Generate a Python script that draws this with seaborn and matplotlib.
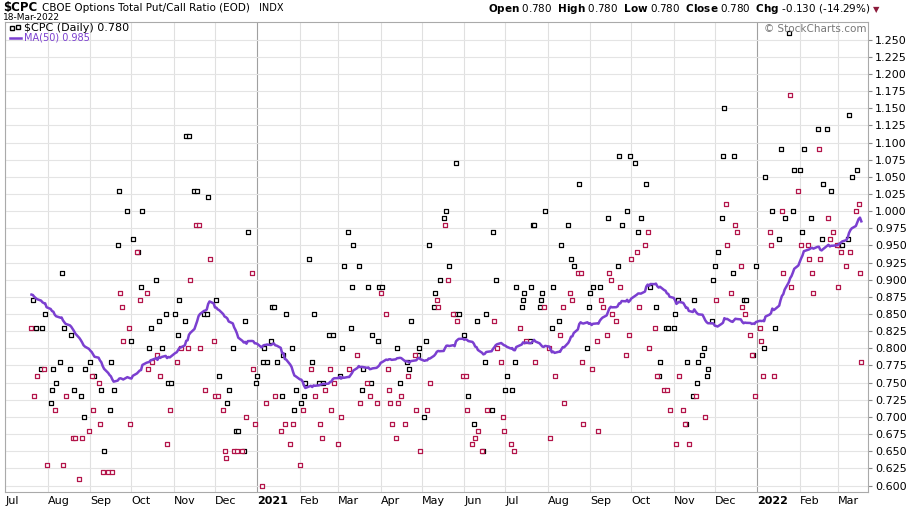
import numpy as np
import pandas as pd
import matplotlib
matplotlib.use("Agg")
import matplotlib.pyplot as plt
import seaborn as sns

# estimated closes for the 49 sessions before the window (only feed the MA(50))
prior_values = [0.90, 0.86, 0.92, 0.84, 0.88, 0.95, 0.83, 0.87, 0.91, 0.85,
                0.89, 0.82, 0.93, 0.86, 0.88, 0.90, 0.84, 0.97, 0.85, 0.87,
                0.92, 0.83, 0.89, 0.86, 0.94, 0.88, 0.84, 0.90, 0.87, 0.85,
                0.91, 0.86, 0.88, 0.93, 0.82, 0.89, 0.87, 0.90, 0.85, 0.92,
                0.86, 0.88, 0.84, 0.91, 0.87, 0.89, 0.85, 0.90, 0.86]

# $CPC daily closes, Jul 2020 .. 18-Mar-2022
cpc_2020h2 = [0.83, 0.87, 0.73, 0.83, 0.76, 0.77, 0.83, 0.77, 0.85, 0.63,
              0.72, 0.74, 0.77, 0.71, 0.75, 0.78, 0.91, 0.63, 0.83, 0.73,
              0.77, 0.82, 0.67, 0.74, 0.67, 0.61, 0.73, 0.67, 0.70, 0.77,
              0.68, 0.78, 0.76, 0.71, 0.76, 0.75, 0.69, 0.74, 0.62, 0.65,
              0.62, 0.71, 0.78, 0.62, 0.74, 0.95, 1.03, 0.88, 0.86, 0.81,
              1.00, 0.83, 0.69, 0.81, 0.96, 0.94, 0.94, 0.87, 0.89, 1.00,
              0.88, 0.77, 0.80, 0.83, 0.78, 0.90, 0.79, 0.84, 0.76, 0.80,
              0.85, 0.66, 0.75, 0.71, 0.75, 0.85, 0.78, 0.82, 0.87, 0.80,
              0.84, 1.11, 0.80, 1.11, 0.90, 1.03, 0.98, 1.03, 0.98, 0.80,
              0.85, 0.74, 0.85, 1.02, 0.93, 0.81, 0.73, 0.87, 0.73, 0.76,
              0.71, 0.65, 0.64, 0.72, 0.74, 0.80, 0.65, 0.68, 0.65, 0.68,
              0.65, 0.65]
cpc_2021h1 = [0.84, 0.70, 0.97, 0.91, 0.77, 0.69, 0.75, 0.76, 0.60, 0.78,
              0.80, 0.72, 0.78, 0.81, 0.86, 0.86, 0.73, 0.78, 0.68, 0.73,
              0.79, 0.69, 0.85, 0.66, 0.80, 0.69, 0.71, 0.74, 0.63, 0.72,
              0.71, 0.73, 0.75, 0.93, 0.77, 0.78, 0.85, 0.73, 0.75, 0.69,
              0.67, 0.75, 0.74, 0.82, 0.77, 0.71, 0.82, 0.75, 0.66, 0.76,
              0.70, 0.80, 0.92, 0.97, 0.77, 0.83, 0.89, 0.95, 0.79, 0.92,
              0.72, 0.74, 0.77, 0.75, 0.89, 0.73, 0.75, 0.82, 0.72, 0.81,
              0.89, 0.88, 0.89, 0.85, 0.77, 0.74, 0.72, 0.69, 0.67, 0.80,
              0.72, 0.75, 0.73, 0.69, 0.78, 0.76, 0.77, 0.84, 0.79, 0.71,
              0.79, 0.80, 0.65, 0.70, 0.81, 0.71, 0.95, 0.75, 0.86, 0.88,
              0.87, 0.86, 0.90, 0.99, 0.98, 1.00, 0.90, 0.92, 0.85, 0.85,
              1.07, 0.84, 0.85, 0.76, 0.82, 0.76, 0.71, 0.73, 0.66, 0.69,
              0.67, 0.84, 0.68, 0.65, 0.65, 0.78, 0.85, 0.71, 0.71, 0.97]
cpc_2021h2 = [0.84, 0.90, 0.80, 0.78, 0.70, 0.68, 0.74, 0.76, 0.66, 0.74,
              0.65, 0.78, 0.89, 0.83, 0.86, 0.87, 0.88, 0.81, 0.81, 0.89,
              0.98, 0.98, 0.78, 0.86, 0.87, 0.88, 0.86, 1.00, 0.80, 0.67,
              0.83, 0.89, 0.76, 0.84, 0.82, 0.95, 0.86, 0.72, 0.98, 0.88,
              0.93, 0.87, 0.92, 0.91, 1.04, 0.91, 0.78, 0.69, 0.80, 0.86,
              0.88, 0.77, 0.89, 0.81, 0.68, 0.89, 0.87, 0.86, 0.82, 0.99,
              0.91, 0.90, 0.85, 0.84, 0.92, 1.08, 0.89, 0.98, 0.79, 1.00,
              0.82, 1.08, 0.93, 1.07, 0.94, 0.97, 0.86, 0.99, 0.95, 1.04,
              0.97, 0.80, 0.89, 0.83, 0.86, 0.76, 0.76, 0.78, 0.74, 0.83,
              0.74, 0.83, 0.71, 0.83, 0.85, 0.66, 0.87, 0.76, 0.71, 0.69,
              0.69, 0.78, 0.66, 0.73, 0.87, 0.73, 0.75, 0.78, 0.79, 0.80,
              0.70, 0.76, 0.77, 0.84, 0.90, 0.92, 0.87, 0.94, 0.99, 1.08,
              1.15, 1.01, 0.95, 0.88, 0.91, 1.08, 0.98, 0.97, 0.92, 0.86,
              0.87, 0.85, 0.87, 0.82, 0.79, 0.79, 0.73, 0.92, 0.83, 0.81]
cpc_2022 = [0.76, 0.80, 1.05, 0.97, 0.95, 1.00, 0.76, 0.83, 0.96, 1.09,
            1.00, 0.91, 0.99, 1.26, 1.17, 0.89, 1.00, 1.06, 1.03, 1.06,
            0.95, 0.97, 1.09, 0.95, 0.93, 0.99, 0.91, 0.88, 1.12, 1.09,
            0.93, 0.96, 1.04, 1.12, 0.99, 0.96, 1.03, 0.97, 0.95, 0.89,
            0.95, 0.94, 0.95, 0.92, 0.96, 1.14, 0.94, 1.05, 1.00, 1.06,
            1.01, 0.91, 0.78]

values = cpc_2020h2 + cpc_2021h1 + cpc_2021h2 + cpc_2022
all_vals = pd.Series(prior_values + values)
ma50 = all_vals.rolling(50).mean().iloc[len(prior_values):].to_numpy()

dates = pd.bdate_range(end="2022-03-18", periods=len(values))
df = pd.DataFrame({"date": dates, "cpc": values, "ma": ma50})
df["dir"] = np.where(df["cpc"].diff().fillna(-1) >= 0, "up", "down")

BLACK = "#000000"
RED = "#b3154a"
PURPLE = "#7b3fd0"

fig = plt.figure(figsize=(9.11, 5.09), dpi=100)
ax = fig.add_axes([0.006, 0.034, 0.947, 0.923])

for d, c in [("up", BLACK), ("down", RED)]:
    sub = df[df["dir"] == d]
    sns.scatterplot(data=sub, x="date", y="cpc", ax=ax, marker="s", s=5,
                    facecolor="white", edgecolor=c, linewidth=0.9, legend=False, zorder=3)
sns.lineplot(data=df, x="date", y="ma", ax=ax, color=PURPLE, lw=1.8, zorder=4)

ax.set_ylim(0.591, 1.276)
ax.set_xlim(dates[0] - pd.Timedelta(days=2), dates[-1] + pd.Timedelta(days=5))
ax.set_yticks(np.arange(0.600, 1.2501, 0.025))
ax.yaxis.set_major_formatter(matplotlib.ticker.FormatStrFormatter("%.3f"))
ax.yaxis.tick_right()
ax.tick_params(axis="y", length=3, labelsize=8, pad=2, color="#888888")
ax.tick_params(axis="x", length=0, labelsize=8, pad=3)
ax.set_xlabel("")
ax.set_ylabel("")

month_starts = pd.date_range("2020-07-01", "2022-03-01", freq="MS")
ax.set_xticks(month_starts)
labels = []
for m in month_starts:
    labels.append(str(m.year) if m.month == 1 else m.strftime("%b"))
ax.set_xticklabels(labels)
for lab, m in zip(ax.get_xticklabels(), month_starts):
    lab.set_ha("left")
    if m.month == 1:
        lab.set_fontweight("bold")

ax.grid(axis="y", color="#e4e4e4", lw=0.8)
for m in month_starts:
    ax.axvline(m, color="#a0a0a0" if m.month == 1 else "#e0e0e0", lw=0.8, zorder=0)
for s in ax.spines.values():
    s.set_color("#aaaaaa")

# header
fig.text(0.003, 0.979, "$CPC", fontsize=8.5, fontweight="bold", va="baseline")
fig.text(0.046, 0.979, "CBOE Options Total Put/Call Ratio (EOD)", fontsize=7.5, va="baseline")
fig.text(0.284, 0.979, "INDX", fontsize=7, va="baseline")
fig.text(0.003, 0.960, "18-Mar-2022", fontsize=6.5, va="baseline")
fig.text(0.955, 0.977, r"$\bf{Open}$ 0.780  $\bf{High}$ 0.780  $\bf{Low}$ 0.780  "
         r"$\bf{Close}$ 0.780  $\bf{Chg}$ -0.130 (-14.29%)", fontsize=7.5,
         va="baseline", ha="right")
fig.text(0.958, 0.977, "\u25bc", fontsize=6, color="#8b1a3a", va="baseline")
ax.text(0.998, 0.995, "\u00a9 StockCharts.com", transform=ax.transAxes,
        ha="right", va="top", fontsize=7.5, color="#777777")

# legend
ax.plot([0.008], [0.986], transform=ax.transAxes, marker="s", ms=2.2, mfc="white",
        mec=BLACK, ls="none")
ax.plot([0.014], [0.990], transform=ax.transAxes, marker="s", ms=2.2, mfc="white",
        mec=BLACK, ls="none")
ax.text(0.021, 0.988, "$CPC (Daily) 0.780", transform=ax.transAxes,
        fontsize=8, va="center")
ax.plot([0.005, 0.018], [0.966, 0.966], transform=ax.transAxes, color=PURPLE, lw=1.8)
ax.text(0.021, 0.966, "MA(50) 0.985", transform=ax.transAxes, fontsize=7,
        va="center", color=PURPLE)

fig.savefig("out.png", dpi=100)
